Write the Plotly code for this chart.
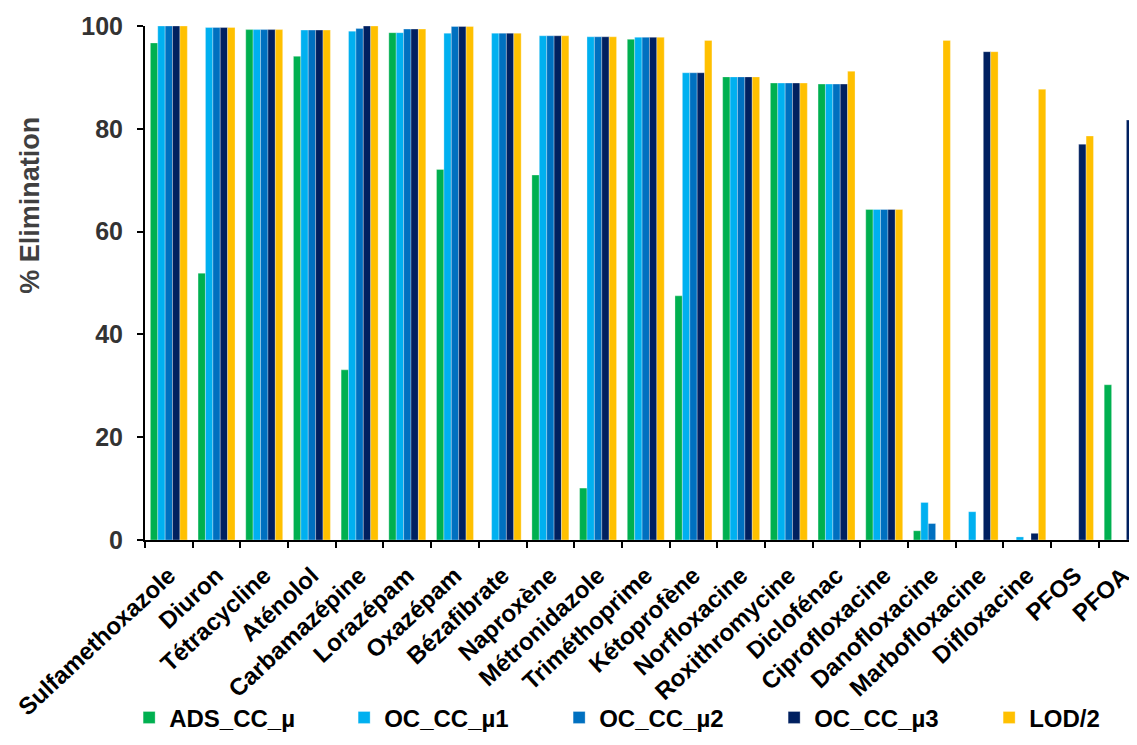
import plotly.graph_objects as go

categories = ["Sulfamethoxazole", "Diuron", "Tétracycline", "Aténolol", "Carbamazépine",
              "Lorazépam", "Oxazépam", "Bézafibrate", "Naproxène", "Métronidazole",
              "Triméthoprime", "Kétoprofène", "Norfloxacine", "Roxithromycine", "Diclofénac",
              "Ciprofloxacine", "Danofloxacine", "Marbofloxacine", "Difloxacine", "PFOS", "PFOA"]

ads_cc_mu = [96.7, 51.9, 99.3, 94.1, 33.1, 98.7, 72.1, 0, 71.0, 10.1,
             97.4, 47.5, 90.1, 88.9, 88.7, 64.3, 1.8, 0, 0, 0, 30.2]
oc_cc_mu1 = [100, 99.7, 99.3, 99.2, 99.0, 98.7, 98.6, 98.6, 98.1, 97.9,
             97.8, 90.9, 90.1, 88.9, 88.7, 64.3, 7.3, 5.5, 0.6, 0, 0]
oc_cc_mu2 = [100, 99.7, 99.3, 99.2, 99.5, 99.4, 99.9, 98.6, 98.1, 97.9,
             97.8, 90.9, 90.1, 88.9, 88.7, 64.3, 3.2, 0, 0, 0, 0]
oc_cc_mu3 = [100, 99.7, 99.3, 99.2, 100, 99.4, 99.9, 98.6, 98.1, 97.9,
             97.8, 90.9, 90.1, 88.9, 88.7, 64.3, 0, 95.0, 1.3, 77.0, 81.7]
lod_2 = [100, 99.7, 99.3, 99.2, 100, 99.4, 99.9, 98.6, 98.1, 97.9,
         97.8, 97.2, 90.1, 88.9, 91.2, 64.3, 97.2, 95.0, 87.7, 78.6, 81.7]

series = [
    ("ADS_CC_µ", ads_cc_mu, "#00B050"),
    ("OC_CC_µ1", oc_cc_mu1, "#00B0F0"),
    ("OC_CC_µ2", oc_cc_mu2, "#0070C0"),
    ("OC_CC_µ3", oc_cc_mu3, "#002060"),
    ("LOD/2", lod_2, "#FFC000"),
]

FONT = "Liberation Sans, Arial, sans-serif"

fig = go.Figure()
for name, vals, col in series:
    fig.add_trace(go.Bar(
        name=name, x=categories, y=vals,
        marker=dict(color=col, line=dict(width=0.6, color="rgba(255,255,255,0.5)")),
    ))

# page body has an 8px default margin, so the figure is sized/offset to compensate
fig.update_layout(
    width=1129, height=737,
    barmode="group", bargap=0.225, bargroupgap=0,
    plot_bgcolor="white", paper_bgcolor="white",
    margin=dict(l=137, r=0, t=18, b=205, autoexpand=False),
    font=dict(family=FONT, color="black", size=22, weight="bold"),
    showlegend=True,
    legend=dict(orientation="h", x=-0.016, xanchor="left", y=-0.346, yanchor="middle",
                entrywidth=170, entrywidthmode="pixels", bgcolor="rgba(0,0,0,0)",
                font=dict(family=FONT, size=24, weight="bold", color="black"),
                itemwidth=30, traceorder="normal"),
    xaxis=dict(
        type="category", range=[-0.5, 20.3], automargin=False,
        showline=True, linecolor="black", linewidth=2,
        ticks="outside", ticklen=6, tickwidth=2, tickcolor="black",
        tickson="boundaries", tickangle=-43, ticklabelstandoff=10,
        tickfont=dict(family=FONT, size=24, weight="bold", color="black"),
        showgrid=False, zeroline=False,
    ),
    yaxis=dict(
        range=[0, 100], dtick=20, automargin=False,
        showline=True, linecolor="black", linewidth=2,
        ticks="outside", ticklen=6, tickwidth=2, tickcolor="black",
        ticklabelstandoff=9,
        tickfont=dict(family=FONT, size=25, weight="bold", color="#333333"),
        showgrid=False, zeroline=False,
    ),
    annotations=[dict(
        text="% Elimination", xref="paper", yref="paper",
        x=-0.116, y=0.652, xanchor="center", yanchor="middle",
        textangle=-90, showarrow=False,
        font=dict(family=FONT, size=27, weight="bold", color="#404040"),
    )],
)

fig.write_html("out.html")
